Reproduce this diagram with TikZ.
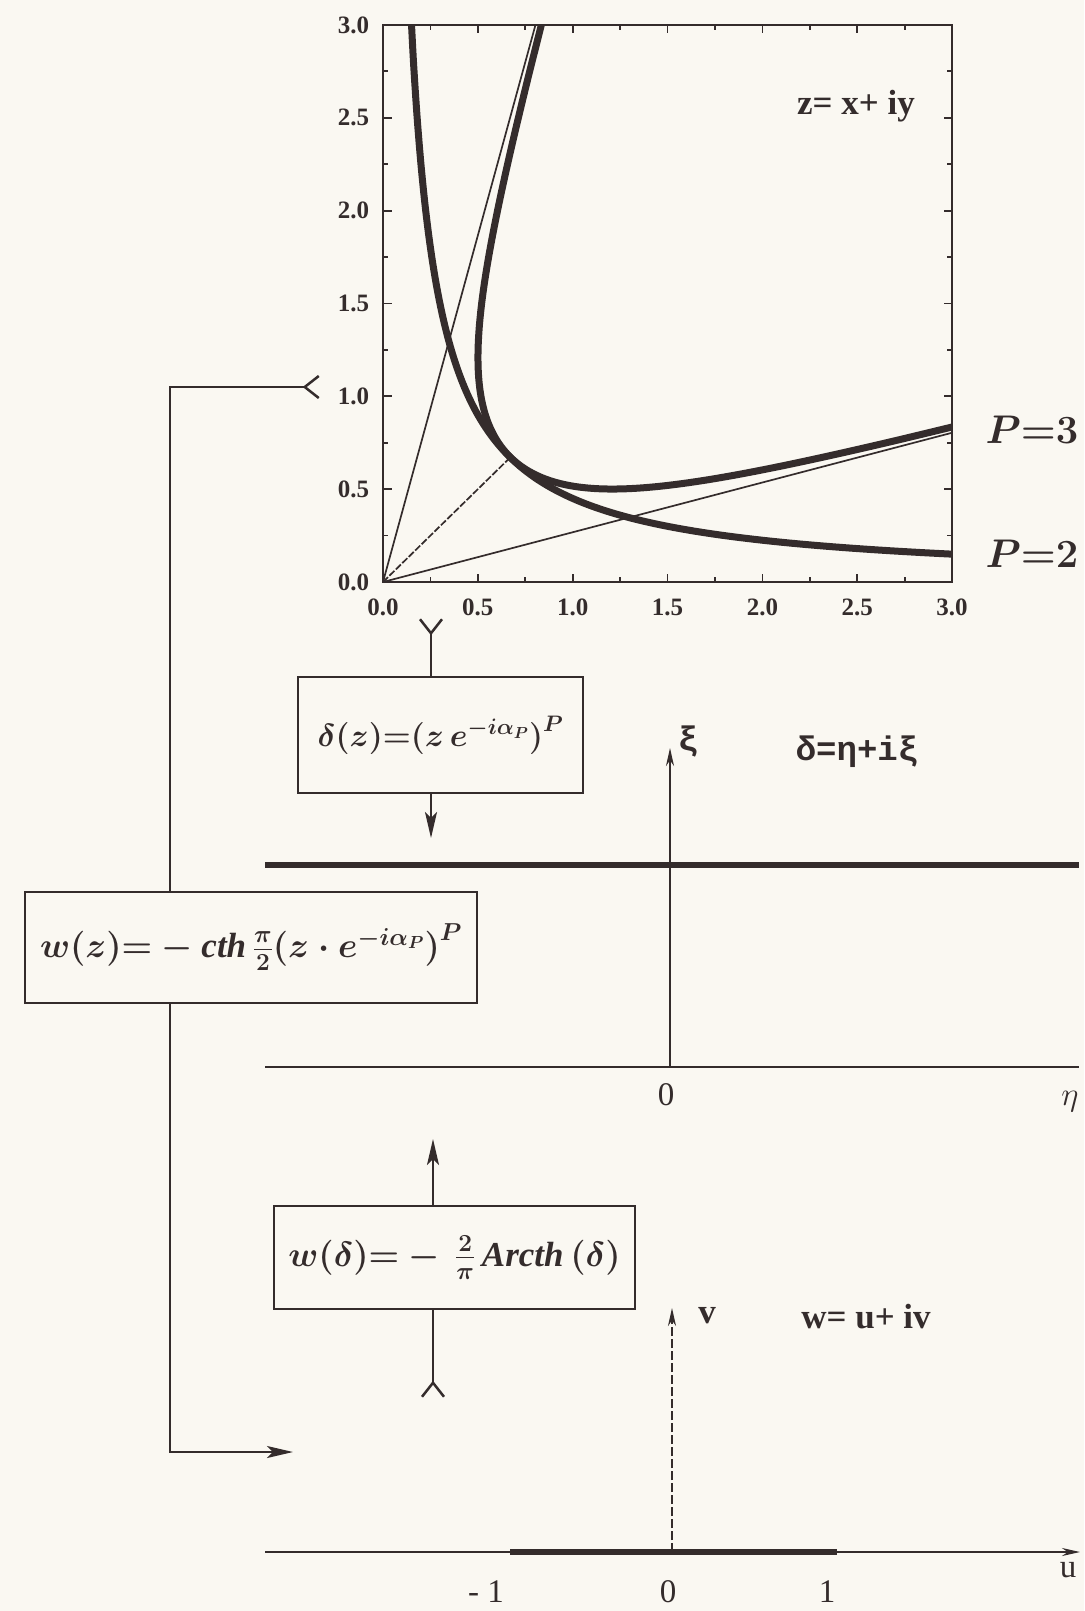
\documentclass[tikz,border=0pt]{standalone}
\usepackage{fix-cm}
\usepackage{fontspec}
\setmainfont{Liberation Serif}
\newfontfamily\monofont{Liberation Mono}
\usetikzlibrary{arrows.meta,positioning}
\definecolor{ink}{RGB}{52,44,44}
\definecolor{paper}{RGB}{250,248,242}
\tikzset{
  map box/.style={
    rectangle, draw=ink, line width=2.8pt, text=ink,
    inner sep=0pt, font=\fontsize{35}{41}\selectfont\boldmath
  },
  frame line/.style={draw=ink, line width=2.4pt},
  frame tick/.style={ink, line width=1.8pt},
  curve line/.style={ink, line width=7pt, line cap=round},
  ray line/.style={ink, line width=1.7pt},
  flow line/.style={ink, line width=2.2pt},
  flow arrow/.style={flow line, -{Stealth[length=26pt,width=12pt,inset=6pt]}},
  flow tail/.style={flow line, {Straight Barb[reversed,length=14pt,width=22pt,line width=2.5pt]}-},
  axis line/.style={ink, line width=2.2pt},
  axis arrow/.style={axis line, -{Stealth[length=18pt,width=8pt]}},
  image line/.style={ink, line width=6pt},
  tick label/.style={text=ink, font=\fontsize{25}{28}\selectfont\bfseries},
  plane label/.style={text=ink, font=\fontsize{35}{40}\selectfont\bfseries},
  mono label/.style={text=ink, font=\fontsize{34}{38}\selectfont\monofont\bfseries},
  curve label/.style={text=ink, font=\fontsize{40}{44}\selectfont\boldmath},
  axis label/.style={text=ink, font=\fontsize{33}{38}\selectfont}
}

\begin{document}
\begin{tikzpicture}[x=1pt, y=-1pt]
  \fill[paper] (0,0) rectangle (1084,1611);
  \useasboundingbox (0,0) rectangle (1084,1611);

  % z-plane plot
  \begin{scope}[shift={(383,582)}, x=189.7pt, y=185.7pt]
    \begin{scope}
      \clip (0,0) rectangle (3,3);
      \draw[ray line] (0,0) -- (3,{3*tan(15)});
      \draw[ray line] (0,0) -- ({3*tan(15)},3);
      \draw[ray line, dash pattern=on 7pt off 2pt] (0,0) -- (0.672,0.672);
      \draw[curve line] plot[domain=0.14:3.05, samples=150, smooth] (\x,{0.45/\x});
      \draw[curve line] plot[domain=15.45:74.55, samples=220, smooth, variable=\t]
        ({cos(\t)*(0.857/sin(3*(\t-15)))^(1/3)}, {sin(\t)*(0.857/sin(3*(\t-15)))^(1/3)});
    \end{scope}
    \draw[frame line] (0,0) rectangle (3,3);
    \foreach \t in {0.5,1,...,2.5} {
      \draw[frame tick] (\t,0) -- (\t,0.045) (\t,3) -- (\t,2.955)
                        (0,\t) -- (0.045,\t) (3,\t) -- (2.955,\t);
    }
    \foreach \t in {0.25,0.75,...,2.75} {
      \draw[frame tick] (\t,0) -- (\t,0.025) (\t,3) -- (\t,2.975)
                        (0,\t) -- (0.025,\t) (3,\t) -- (2.975,\t);
    }
    \foreach \v/\s in {0/0.0,0.5/0.5,1/1.0,1.5/1.5,2/2.0,2.5/2.5,3/3.0} {
      \node[tick label] at (-0.155,\v) {\s};
      \node[tick label] at (\v,-0.135) {\s};
    }
    \coordinate (p3 end) at (3,0.82);
    \coordinate (p2 end) at (3,0.15);
  \end{scope}
  \node[plane label] (z plane) at (856,106) {z= x+ iy};
  \node[curve label, right=30pt of p3 end] (p3 label) {$P{=}3$};
  \node[curve label, right=30pt of p2 end] (p2 label) {$P{=}2$};

  % mapping boxes
  \node[map box, minimum width=285pt, minimum height=116pt,
        font=\fontsize{32}{38}\selectfont\boldmath] (delta map) at (440.5,735)
    {$\delta(z){=}\Bigl(z\,e^{-i\alpha_P}\Bigr)^{P}$};
  \node[map box, minimum width=452pt, minimum height=111pt] (wz map) at (251,947.5)
    {$w(z){=}-\mathit{cth}\,\frac{\pi}{2}\Bigl(z\cdot e^{-i\alpha_P}\Bigr)^{P}$};
  \node[map box, minimum width=361pt, minimum height=103pt] (wdelta map) at (454.5,1257.5)
    {$w(\delta){=}-\,\frac{2}{\pi}\,\mathit{Arcth}\,(\delta)$};

  % connectors
  \coordinate (left rail) at (170,0);
  \coordinate (z out left) at (320,387);
  \coordinate (z out down) at (431,618);
  \coordinate (delta in) at (431,838);
  \coordinate (w in) at (293,1452);
  \coordinate (wdelta tail) at (433,1398);
  \coordinate (eta up) at (433,1139);
  \draw[flow tail] (z out left) -| (wz map.north -| left rail);
  \draw[flow arrow] (wz map.south -| left rail) |- (w in);
  \draw[flow tail] (z out down) -- (delta map.north -| z out down);
  \draw[flow arrow] (delta map.south -| z out down) -- (delta in);
  \draw[flow tail] (wdelta tail) -- (wdelta map.south -| wdelta tail);
  \draw[flow arrow] (wdelta map.north -| wdelta tail) -- (eta up);

  % delta-plane
  \coordinate (delta origin) at (670,1067);
  \draw[image line] (265,865) -- (1079,865);
  \draw[axis line] (265,1067) -- (1079,1067);
  \draw[axis arrow] (delta origin) -- (670,748);
  \node[mono label] (xi label) at (688,742) {ξ};
  \node[mono label] (delta plane) at (857,752) {δ=η+iξ};
  \node[axis label] (delta zero) at (666,1095) {0};
  \node[axis label] (eta label) at (1070,1102) {$\eta$};

  % w-plane
  \coordinate (w origin) at (672,1552);
  \draw[axis arrow] (265,1552) -- (1080,1552);
  \draw[image line] (510,1552) -- (837,1552);
  \draw[axis arrow, dash pattern=on 9pt off 3pt] (w origin) -- (672,1308);
  \node[plane label] (v label) at (707,1316) {v};
  \node[plane label] (w plane) at (866,1317) {w= u+ iv};
  \node[axis label] (u label) at (1068,1570) {u};
  \node[axis label] (minus one) at (486,1592) {- 1};
  \node[axis label] (w zero) at (668,1592) {0};
  \node[axis label] (plus one) at (827,1592) {1};
\end{tikzpicture}
\end{document}
